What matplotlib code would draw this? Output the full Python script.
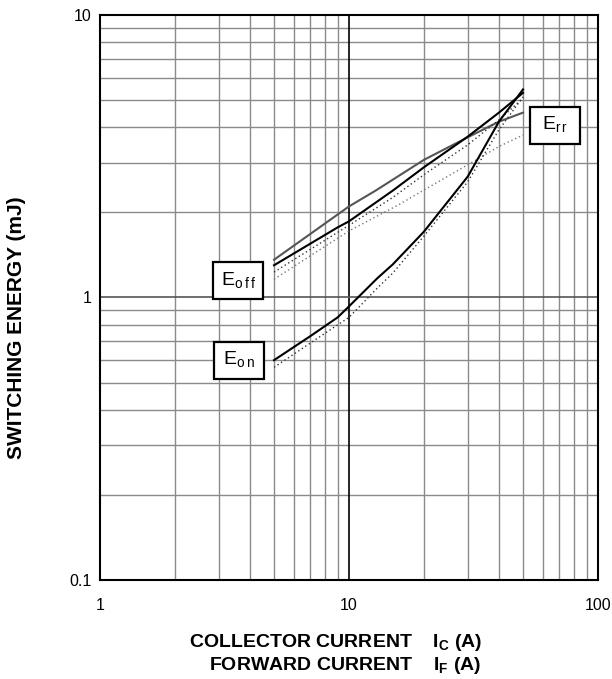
import numpy as np
import matplotlib.pyplot as plt
from matplotlib.patches import Rectangle
from matplotlib.ticker import FixedLocator, NullFormatter

plt.rcParams['font.family'] = ['Liberation Sans', 'DejaVu Sans']
plt.rcParams['mathtext.fontset'] = 'custom'
plt.rcParams['mathtext.rm'] = 'Liberation Sans'
plt.rcParams['mathtext.bf'] = 'Liberation Sans:bold'

# Data (current in A, energy in mJ)
eon_x = [5, 7, 9, 10, 13, 15, 20, 30, 40, 50]
eon_solid = [0.60, 0.73, 0.85, 0.93, 1.17, 1.31, 1.71, 2.68, 4.19, 5.45]
eon_dot = [0.566, 0.69, 0.80, 0.85, 1.08, 1.22, 1.65, 2.57, 3.92, 5.13]

eoff_x = [5, 9, 10, 15, 20, 30, 40, 50]
eoff_solid = [1.30, 1.77, 1.86, 2.39, 2.89, 3.71, 4.51, 5.30]
eoff_dot = [1.23, 1.70, 1.80, 2.26, 2.72, 3.47, 4.25, 5.07]

err_x = [5, 10, 12.8, 20, 30, 40, 50]
err_solid = [1.36, 2.10, 2.39, 3.07, 3.69, 4.19, 4.51]
err_dot_x = [5, 10, 16, 20, 30, 40, 50]
err_dot = [1.16, 1.72, 2.14, 2.40, 2.95, 3.42, 3.76]

fig = plt.figure(figsize=(6.12, 6.79), dpi=100)
ax = fig.add_axes([0.1634, 0.1458, 0.8137, 0.8322])
ax.set_xscale('log')
ax.set_yscale('log')
ax.set_xlim(1, 100)
ax.set_ylim(0.1, 10)

# grid lines at every 1..9 step
grid_x = [m * d for d in (1, 10) for m in range(2, 10)]
grid_y = [m * d for d in (0.1, 1) for m in range(2, 10)]
for gx in grid_x:
    ax.axvline(gx, color='#8a8a8a', lw=1.0, zorder=1)
for gy in grid_y:
    ax.axhline(gy, color='#8a8a8a', lw=1.0, zorder=1)
ax.axvline(10, color='black', lw=1.2, zorder=1)
ax.axhline(1, color='#555555', lw=1.2, zorder=1)

# curves
dots = (0, (1, 2))
ax.plot(err_x, err_solid, color='#555555', lw=1.5, zorder=3)
ax.plot(err_dot_x, err_dot, color='#777777', lw=1.0, ls=dots, zorder=3)
ax.plot(eoff_x, eoff_solid, color='black', lw=1.5, zorder=3)
ax.plot(eoff_x, eoff_dot, color='#333333', lw=1.0, ls=dots, zorder=3)
ax.plot(eon_x, eon_solid, color='black', lw=1.5, zorder=3)
ax.plot(eon_x, eon_dot, color='#333333', lw=1.0, ls=dots, zorder=3)

# label boxes (axes fraction)
labels = [r'E$_{\mathregular{o\,f\,f}}$', r'E$_{\mathregular{o\,n}}$', r'E$_{\mathregular{r\,r}}$']
box_x = [0.227, 0.229, 0.863]
box_y = [0.497, 0.356, 0.772]
bw, bh = 0.1004, 0.0655
for lab, bx, by in zip(labels, box_x, box_y):
    ax.add_patch(Rectangle((bx, by), bw, bh, transform=ax.transAxes, fc='white',
                           ec='black', lw=1.6, zorder=5))
    ax.text(bx + bw / 2, by + bh / 2, lab, transform=ax.transAxes, fontsize=14,
            ha='center', va='center', zorder=6)

# ticks
ax.xaxis.set_major_locator(FixedLocator([1, 10, 100]))
ax.yaxis.set_major_locator(FixedLocator([0.1, 1, 10]))
ax.xaxis.set_minor_formatter(NullFormatter())
ax.yaxis.set_minor_formatter(NullFormatter())
ax.set_xticklabels(['1', '10', '100'])
ax.set_yticklabels(['0.1', '1', '10'])
ax.tick_params(which='both', length=0, labelsize=11.5)
ax.tick_params(axis='x', pad=13)
ax.tick_params(axis='y', pad=6)

for s in ax.spines.values():
    s.set_linewidth(1.5)
    s.set_zorder(7)

fig.text(0.027, 0.518, 'SWITCHING ENERGY (mJ)', fontsize=15, fontweight='bold',
         rotation=90, ha='center', va='center')
fig.text(0.549, 0.0471, r'COLLECTOR CURRENT    I$_{\mathbf{C}}$ (A)', fontsize=14,
         fontweight='bold', ha='center', va='baseline')
fig.text(0.564, 0.0133, r'FORWARD CURRENT    I$_{\mathbf{F}}$ (A)', fontsize=14,
         fontweight='bold', ha='center', va='baseline')

fig.savefig('out.png', dpi=100)
